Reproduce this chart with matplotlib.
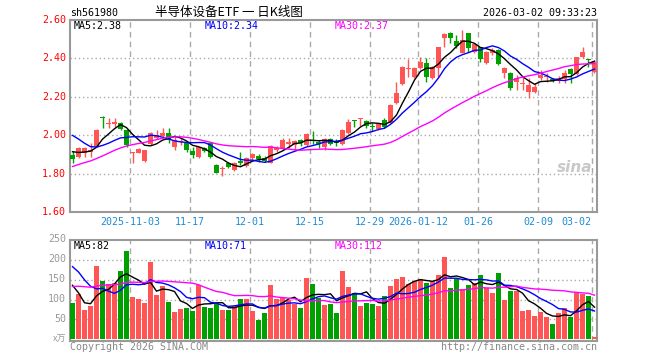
import matplotlib
matplotlib.use("Agg")
import matplotlib.pyplot as plt
import numpy as np
import pandas as pd

# ---- data (88 sessions, 2025-10-20 .. 2026-03-02) ----
opens = [1.896, 1.887, 1.905, 1.912, 1.940, 2.096, 2.058, 2.058, 2.061, 2.026,
         1.908, 1.908, 1.865, 1.952, 1.988, 1.997, 2.014, 1.940, 1.962, 1.957,
         1.919, 1.887, 1.931, 1.957, 1.844, 1.825, 1.853, 1.818, 1.867, 1.839,
         1.879, 1.891, 1.879, 1.856, 1.922, 1.931, 1.952, 1.948, 1.974, 1.948,
         1.976, 1.962, 1.940, 1.980, 1.962, 1.952, 2.010, 2.078, 2.082, 2.074,
         2.046, 2.030, 2.079, 2.065, 2.166, 2.267, 2.345, 2.301, 2.348, 2.378,
         2.296, 2.348, 2.505, 2.534, 2.492, 2.430, 2.531, 2.435, 2.458, 2.374,
         2.430, 2.444, 2.326, 2.326, 2.279, 2.268, 2.227, 2.227, 2.296, 2.303,
         2.291, 2.284, 2.291, 2.343, 2.319, 2.406, 2.394, 2.331]
highs = [1.917, 1.936, 1.936, 1.960, 2.030, 2.099, 2.087, 2.089, 2.070, 2.030,
         1.912, 1.931, 1.925, 2.018, 2.026, 2.039, 2.040, 1.992, 1.985, 1.966,
         1.940, 1.940, 1.940, 1.960, 1.849, 1.839, 1.861, 1.861, 1.914, 1.887,
         1.905, 1.900, 1.891, 1.948, 1.943, 1.983, 1.983, 1.974, 1.978, 2.009,
         2.023, 1.974, 1.988, 1.983, 1.978, 2.030, 2.082, 2.079, 2.088, 2.079,
         2.061, 2.061, 2.088, 2.160, 2.279, 2.360, 2.395, 2.356, 2.409, 2.404,
         2.360, 2.461, 2.531, 2.539, 2.522, 2.548, 2.534, 2.478, 2.461, 2.439,
         2.452, 2.447, 2.357, 2.331, 2.314, 2.305, 2.296, 2.270, 2.340, 2.326,
         2.296, 2.308, 2.340, 2.348, 2.409, 2.458, 2.395, 2.392]
lows = [1.856, 1.879, 1.887, 1.887, 1.936, 2.035, 2.040, 2.044, 2.026, 1.936,
        1.853, 1.905, 1.861, 1.948, 1.978, 1.983, 1.957, 1.922, 1.950, 1.914,
        1.882, 1.882, 1.914, 1.879, 1.801, 1.789, 1.827, 1.815, 1.844, 1.832,
        1.870, 1.861, 1.861, 1.853, 1.914, 1.922, 1.931, 1.922, 1.943, 1.943,
        1.955, 1.931, 1.922, 1.950, 1.943, 1.948, 2.008, 2.044, 2.048, 2.036,
        2.023, 2.027, 2.036, 2.062, 2.162, 2.261, 2.301, 2.297, 2.343, 2.279,
        2.291, 2.305, 2.461, 2.478, 2.452, 2.426, 2.435, 2.426, 2.383, 2.369,
        2.418, 2.366, 2.296, 2.235, 2.235, 2.235, 2.192, 2.222, 2.288, 2.279,
        2.279, 2.270, 2.270, 2.274, 2.314, 2.400, 2.357, 2.326]
closes = [1.875, 1.931, 1.931, 1.922, 2.026, 2.087, 2.065, 2.068, 2.030, 1.948,
          1.912, 1.927, 1.922, 2.013, 2.000, 2.009, 1.974, 1.974, 1.972, 1.922,
          1.896, 1.936, 1.919, 1.887, 1.804, 1.830, 1.835, 1.856, 1.853, 1.879,
          1.901, 1.875, 1.867, 1.943, 1.931, 1.974, 1.966, 1.969, 1.957, 2.004,
          1.972, 1.953, 1.980, 1.954, 1.957, 2.027, 2.070, 2.074, 2.085, 2.048,
          2.044, 2.058, 2.044, 2.157, 2.222, 2.357, 2.348, 2.352, 2.383, 2.305,
          2.357, 2.458, 2.527, 2.505, 2.465, 2.496, 2.452, 2.475, 2.395, 2.435,
          2.444, 2.369, 2.348, 2.244, 2.296, 2.272, 2.261, 2.253, 2.314, 2.306,
          2.282, 2.296, 2.322, 2.319, 2.406, 2.432, 2.390, 2.380]
volumes = [92, 115, 73, 83, 184, 148, 140, 142, 172, 223,
           107, 101, 92, 194, 112, 133, 94, 69, 76, 79,
           71, 137, 82, 79, 90, 73, 73, 83, 101, 101,
           71, 48, 67, 136, 101, 105, 98, 90, 79, 154,
           138, 105, 86, 90, 67, 173, 132, 117, 83, 92,
           88, 83, 108, 133, 153, 157, 140, 148, 153, 142,
           147, 162, 208, 128, 152, 127, 137, 142, 163, 130,
           117, 168, 98, 122, 122, 71, 73, 58, 68, 57,
           38, 67, 78, 57, 118, 115, 108, 7]

# sessions before the window, estimated from where the MA lines start
pre_closes = [1.62, 1.64, 1.66, 1.65, 1.68, 1.63, 1.62, 1.66, 1.65,
              1.70, 1.74, 1.76, 1.78, 1.80, 1.78, 1.85, 1.90, 1.95, 2.00, 2.05,
              2.12, 2.15, 2.10, 2.05, 2.00, 1.95, 1.92, 1.90, 1.925]
pre_volumes = [95, 110, 120, 100, 90, 105, 130, 115, 100, 95,
               110, 120, 105, 98, 112, 125, 100, 108, 115, 107,
               250, 270, 245, 250, 135, 210, 198, 95, 85]

date_idx = [10, 20, 30, 40, 50, 58, 68, 78, 87]
date_labels = ["2025-11-03", "11-17", "12-01", "12-15", "12-29",
               "2026-01-12", "01-26", "02-09", "03-02"]
price_ticks = [1.60, 1.80, 2.00, 2.20, 2.40, 2.60]
vol_ticks = [50, 100, 150, 200, 250]
price_ma_text = ["MA5:2.38", "MA10:2.34", "MA30:2.37"]
vol_ma_text = ["MA5:82", "MA10:71", "MA30:112"]

RED = "#FF5555"
GREEN = "#00A000"
MA_COLORS = ["#000000", "#0000FF", "#FF00FF"]
GRID = "#AAAAAA"
FRAME = "#999999"
MONO = "DejaVu Sans Mono"

n = len(closes)
x = np.arange(n)
up = np.array(closes) >= np.array(opens)
colors = [RED if u else GREEN for u in up]

full_c = pd.Series(pre_closes + closes)
full_v = pd.Series(pre_volumes + volumes)
npre = len(pre_closes)
price_ma = [full_c.rolling(k).mean().iloc[npre:].values for k in (5, 10, 30)]
vol_ma = [full_v.rolling(k).mean().iloc[npre:].values for k in (5, 10, 30)]

W, H = 660, 360
fig = plt.figure(figsize=(W / 100, H / 100), dpi=100)
fig.patch.set_facecolor("white")

def fx(px):
    return px / W

def fy(py):
    return 1 - py / H

L, R = 70, 597
ax = fig.add_axes([fx(L), fy(212), fx(R - L), (212 - 20) / H])
ax2 = fig.add_axes([fx(L), fy(341), fx(R - L), (341 - 240) / H])

xlim = (-2.5 / 6, (R - 72.5) / 6)
bw = 5 / 6

for a in (ax, ax2):
    a.set_xlim(*xlim)
    a.set_xticks([])
    a.set_yticks([])
    for s in a.spines.values():
        s.set_color(FRAME)
        s.set_linewidth(1.5)
    for d in date_idx:
        a.axvline(d - bw / 2, color=GRID, lw=1, ls=(0, (4, 3)), zorder=0)

# ---- price panel ----
ax.set_ylim(1.6, 2.6)
for p in price_ticks[1:-1]:
    ax.axhline(p, color=GRID, lw=1, ls=(0, (1, 2)), zorder=0)

ax.vlines(x, lows, highs, colors=colors, lw=1, zorder=2)
body_bottom = np.minimum(opens, closes)
body_h = np.maximum(np.abs(np.array(closes) - np.array(opens)), 0.005)
ax.bar(x, body_h, bottom=body_bottom, width=bw, color=colors, lw=0, zorder=3)

for ma, c in zip(price_ma, MA_COLORS):
    ax.plot(x, ma, color=c, lw=1, zorder=4)

for p in price_ticks:
    fig.text(fx(66), fy(20 + (2.6 - p) * 192), f"{p:.2f}", color="red",
             ha="right", va="center", family=MONO, fontsize=7.2)

for txt, px, c in zip(price_ma_text, [74, 205, 335], MA_COLORS):
    fig.text(fx(px), fy(26), txt, color=c, ha="left", va="center",
             family=MONO, fontsize=7.2)

# date labels
for d, lab in zip(date_idx, date_labels):
    xp = 70 + 6 * d
    if d == date_idx[-1]:
        fig.text(fx(591), fy(222), lab, color="#1E8CD2", ha="right",
                 va="center", family=MONO, fontsize=7.2)
    else:
        fig.text(fx(xp), fy(222), lab, color="#1E8CD2", ha="center",
                 va="center", family=MONO, fontsize=7.2)

# ---- volume panel ----
ax2.set_ylim(-4.25, 250)
for v in vol_ticks[:-1]:
    ax2.axhline(v, color=GRID, lw=1, ls=(0, (1, 2)), zorder=0)
ax2.bar(x, volumes, width=bw, color=colors, lw=0, zorder=3)
for ma, c in zip(vol_ma, MA_COLORS):
    ax2.plot(x, ma, color=c, lw=1, zorder=4)

for v in vol_ticks:
    fig.text(fx(66), fy(339.3 - v * 0.4), str(v), color="#999999",
             ha="right", va="center", family=MONO, fontsize=7.2)
fig.text(fx(66), fy(339), "x万", color="#999999", ha="right", va="center",
         family=["Noto Sans CJK SC", "DejaVu Sans"], fontsize=6.5)

for txt, px, c in zip(vol_ma_text, [74, 205, 335], MA_COLORS):
    fig.text(fx(px), fy(246), txt, color=c, ha="left", va="center",
             family=MONO, fontsize=7.2)

# ---- header / footer ----
fig.text(fx(70), fy(13), "sh561980", color="black", ha="left", va="center",
         family=MONO, fontsize=7.2)
fig.text(fx(229), fy(12), "半导体设备ETF 一 日K线图", color="black",
         ha="center", va="center",
         family=["Noto Sans CJK SC", "DejaVu Sans"], fontsize=9)
fig.text(fx(597), fy(13), "2026-03-02 09:33:23", color="black", ha="right",
         va="center", family=MONO, fontsize=7.2)
fig.text(fx(70), fy(347), "Copyright 2026 SINA.COM", color="#888888",
         ha="left", va="center", family=MONO, fontsize=7.2)
fig.text(fx(597), fy(347), "http://finance.sina.com.cn", color="#888888",
         ha="right", va="center", family=MONO, fontsize=7.2)
fig.text(fx(592), fy(168), "sina", color="#BBBBBB", ha="right", va="center",
         family="DejaVu Sans", fontsize=11, style="italic", weight="bold",
         alpha=0.8)

fig.savefig("out.png", dpi=100)
